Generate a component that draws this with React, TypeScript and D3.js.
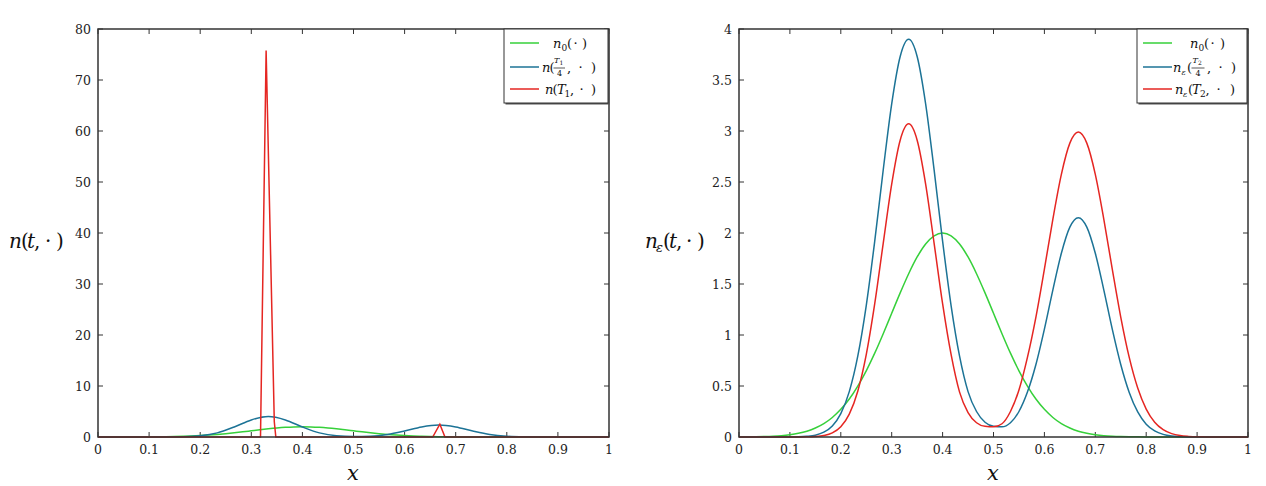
import * as d3 from "d3";

// sample grid used by the smooth curves (x = i / 60) and the coarse one (x = i / 30)
const fineX = d3.range(61).map((i) => i / 60);
const coarseX = d3.range(31).map((i) => i / 30);

// n0(.) – initial datum, same in both panels
const n0Values = [
  0.0007, 0.0013, 0.0024, 0.0044, 0.0077, 0.013, 0.022, 0.036, 0.057, 0.088,
  0.131, 0.191, 0.271, 0.372, 0.499, 0.649, 0.822, 1.013, 1.213, 1.413,
  1.601, 1.765, 1.892, 1.972, 2.0, 1.972, 1.892, 1.765, 1.601, 1.413,
  1.213, 1.013, 0.822, 0.649, 0.499, 0.372, 0.271, 0.191, 0.131, 0.088,
  0.057, 0.036, 0.022, 0.013, 0.0077, 0.0044, 0.0024, 0.0013, 0.0007, 0,
  0, 0, 0, 0, 0, 0, 0, 0, 0, 0, 0
];

// n(T1/4, .) – left panel, coarse grid
const nQuarterValues = [
  0, 0, 0, 0, 0.007, 0.048, 0.235, 0.81, 1.97, 3.35,
  4.0, 3.35, 1.97, 0.81, 0.24, 0.1, 0.15, 0.48, 1.16, 1.97,
  2.35, 1.97, 1.16, 0.48, 0.14, 0.028, 0.004, 0, 0, 0, 0
];

// n(T1, .) – left panel, spiky solution
const nFinalX = [0, 0.318, 0.329, 0.345, 0.348, 0.655, 0.669, 0.679, 1];
const nFinalY = [0, 0, 75.8, 3, 0, 0, 2.5, 0, 0];

// n_eps(T2/4, .)
const nEpsQuarterValues = [
  0, 0, 0, 0, 0, 0, 0.0007, 0.002, 0.007, 0.018,
  0.047, 0.108, 0.229, 0.445, 0.792, 1.289, 1.92, 2.618, 3.267, 3.731,
  3.9, 3.731, 3.267, 2.618, 1.92, 1.289, 0.792, 0.445, 0.25, 0.145,
  0.105, 0.1, 0.14, 0.25, 0.44, 0.711, 1.058, 1.443, 1.801, 2.057,
  2.15, 2.057, 1.801, 1.443, 1.058, 0.711, 0.437, 0.246, 0.126, 0.06,
  0.026, 0.01, 0.004, 0.001, 0, 0, 0, 0, 0, 0, 0
];

// n_eps(T2, .)
const nEpsFinalValues = [
  0, 0, 0, 0, 0, 0, 0, 0.0004, 0.0014, 0.005,
  0.015, 0.041, 0.101, 0.224, 0.449, 0.808, 1.307, 1.899, 2.48, 2.91,
  3.07, 2.91, 2.48, 1.899, 1.307, 0.809, 0.44, 0.24, 0.14, 0.105,
  0.1, 0.13, 0.25, 0.46, 0.78, 1.176, 1.646, 2.137, 2.575, 2.881,
  2.99, 2.881, 2.575, 2.137, 1.646, 1.176, 0.78, 0.48, 0.274, 0.145,
  0.072, 0.033, 0.014, 0.006, 0.002, 0.001, 0, 0, 0, 0, 0
];

const xTicks = [0, 0.1, 0.2, 0.3, 0.4, 0.5, 0.6, 0.7, 0.8, 0.9, 1];
const leftYTicks = [0, 10, 20, 30, 40, 50, 60, 70, 80];
const rightYTicks = [0, 0.5, 1, 1.5, 2, 2.5, 3, 3.5, 4];

const green = "#36d03a";
const blue = "#1c7396";
const red = "#e52622";
const frame = "#333";
const serif = "'DejaVu Serif', serif";

type Pt = { x: number; y: number };
type Piece = { t: string; x: number; dy?: number; size?: number; italic?: boolean };
type Series = { points: Pt[]; color: string; curve: d3.CurveFactory };

const zip = (xs: number[], ys: number[]): Pt[] => ys.map((y, i) => ({ x: xs[i], y }));

function MathText({ pieces, y, size }: { pieces: Piece[]; y: number; size: number }) {
  return (
    <g fill="#111">
      {pieces.map((p, i) => (
        <text
          key={i}
          x={p.x}
          y={y + (p.dy ?? 0)}
          fontSize={p.size ?? size}
          fontStyle={p.italic ? "italic" : "normal"}
        >
          {p.t}
        </text>
      ))}
    </g>
  );
}

type PanelProps = {
  left: number;
  right: number;
  top: number;
  bottom: number;
  yMax: number;
  yTicks: number[];
  series: Series[];
  legend: { box: [number, number, number, number]; lineX: [number, number]; rows: { y: number; color: string; pieces: Piece[]; bars?: [number, number, number][] }[] };
  yLabel: Piece[];
  xLabelX: number;
};

function Panel({ left, right, top, bottom, yMax, yTicks, series, legend, yLabel, xLabelX }: PanelProps) {
  const x = d3.scaleLinear().domain([0, 1]).range([left, right]);
  const y = d3.scaleLinear().domain([0, yMax]).range([bottom, top]);
  const tickLen = 5;
  const fmt = (v: number) => String(v);
  const [bx0, by0, bx1, by1] = legend.box;

  return (
    <g>
      {/* ticks */}
      {xTicks.map((t) => (
        <g key={`x${t}`} stroke={frame} strokeWidth={1}>
          <line x1={x(t)} x2={x(t)} y1={bottom} y2={bottom - tickLen} />
          <line x1={x(t)} x2={x(t)} y1={top} y2={top + tickLen} />
        </g>
      ))}
      {yTicks.map((t) => (
        <g key={`y${t}`} stroke={frame} strokeWidth={1}>
          <line x1={left} x2={left + tickLen} y1={y(t)} y2={y(t)} />
          <line x1={right} x2={right - tickLen} y1={y(t)} y2={y(t)} />
        </g>
      ))}
      {/* curves */}
      {series.map((s, i) => {
        const path = d3
          .line<Pt>()
          .x((d) => x(d.x))
          .y((d) => y(d.y))
          .curve(s.curve)(s.points);
        return <path key={i} d={path ?? ""} fill="none" stroke={s.color} strokeWidth={1.5} />;
      })}
      {/* frame */}
      <rect x={left} y={top} width={right - left} height={bottom - top} fill="none" stroke={frame} strokeWidth={1.5} />
      {/* tick labels */}
      {xTicks.map((t) => (
        <text key={`xl${t}`} x={x(t)} y={bottom + 17} textAnchor="middle" fontSize={12.5} fill="#222">
          {fmt(t)}
        </text>
      ))}
      {yTicks.map((t) => (
        <text key={`yl${t}`} x={left - 7} y={y(t) + 5} textAnchor="end" fontSize={12.5} fill="#222">
          {fmt(t)}
        </text>
      ))}
      {/* axis labels */}
      <text x={xLabelX} y={480} textAnchor="middle" fontSize={21} fontStyle="italic" fill="#111">
        x
      </text>
      <MathText pieces={yLabel} y={248} size={20} />
      {/* legend */}
      <rect x={bx0 + 1.5} y={by0 + 1.5} width={bx1 - bx0} height={by1 - by0} fill="#555" />
      <rect x={bx0} y={by0} width={bx1 - bx0} height={by1 - by0} fill="#fff" stroke={frame} strokeWidth={1} />
      {legend.rows.map((r, i) => (
        <g key={i}>
          <line x1={legend.lineX[0]} x2={legend.lineX[1]} y1={r.y} y2={r.y} stroke={r.color} strokeWidth={1.5} />
          <MathText pieces={r.pieces} y={r.y + 5} size={13} />
          {(r.bars ?? []).map(([a, b, yy], j) => (
            <line key={j} x1={a} x2={b} y1={r.y + yy} y2={r.y + yy} stroke="#111" strokeWidth={0.7} />
          ))}
        </g>
      ))}
    </g>
  );
}

export default function App() {
  const n0 = zip(fineX, n0Values);
  return (
    <svg
      width={1266}
      height={486}
      fontFamily={serif}
      style={{ position: "absolute", left: 0, top: 0, background: "#fff" }}
    >
      <Panel
        left={98}
        right={609}
        top={29}
        bottom={437}
        yMax={80}
        yTicks={leftYTicks}
        series={[
          { points: n0, color: green, curve: d3.curveMonotoneX },
          { points: zip(coarseX, nQuarterValues), color: blue, curve: d3.curveMonotoneX },
          { points: zip(nFinalX, nFinalY), color: red, curve: d3.curveLinear }
        ]}
        legend={{
          box: [504, 29, 608, 103],
          lineX: [510, 539],
          rows: [
            {
              y: 43,
              color: green,
              pieces: [
                { t: "n", x: 553, italic: true },
                { t: "0", x: 561.5, dy: 3, size: 9 },
                { t: "(", x: 567 },
                { t: "·", x: 573.5 },
                { t: ")", x: 582 }
              ]
            },
            {
              y: 67,
              color: blue,
              pieces: [
                { t: "n", x: 542, italic: true },
                { t: "(", x: 549.5 },
                { t: "T", x: 554, dy: -9, size: 8, italic: true },
                { t: "1", x: 559.5, dy: -7.5, size: 6 },
                { t: "4", x: 557, dy: 4, size: 8 },
                { t: ",", x: 567 },
                { t: "·", x: 578.5 },
                { t: ")", x: 591 }
              ],
              bars: [[553.5, 565, 1]]
            },
            {
              y: 89,
              color: red,
              pieces: [
                { t: "n", x: 545, italic: true },
                { t: "(", x: 552.5 },
                { t: "T", x: 557, italic: true },
                { t: "1", x: 564.5, dy: 3, size: 9 },
                { t: ",", x: 570 },
                { t: "·", x: 579.5 },
                { t: ")", x: 591 }
              ]
            }
          ]
        }}
        yLabel={[
          { t: "n", x: 9, italic: true },
          { t: "(", x: 21 },
          { t: "t", x: 27, italic: true },
          { t: ",", x: 34 },
          { t: "·", x: 45 },
          { t: ")", x: 56 }
        ]}
        xLabelX={353}
      />
      <Panel
        left={739}
        right={1248}
        top={29}
        bottom={437}
        yMax={4}
        yTicks={rightYTicks}
        series={[
          { points: n0, color: green, curve: d3.curveMonotoneX },
          { points: zip(fineX, nEpsQuarterValues), color: blue, curve: d3.curveMonotoneX },
          { points: zip(fineX, nEpsFinalValues), color: red, curve: d3.curveMonotoneX }
        ]}
        legend={{
          box: [1137, 29, 1247, 103],
          lineX: [1143, 1172],
          rows: [
            {
              y: 43,
              color: green,
              pieces: [
                { t: "n", x: 1190, italic: true },
                { t: "0", x: 1198.5, dy: 3, size: 9 },
                { t: "(", x: 1204 },
                { t: "·", x: 1210.5 },
                { t: ")", x: 1220 }
              ]
            },
            {
              y: 67,
              color: blue,
              pieces: [
                { t: "n", x: 1173, italic: true },
                { t: "ε", x: 1181.5, dy: 3, size: 8, italic: true },
                { t: "(", x: 1187 },
                { t: "T", x: 1192.5, dy: -9, size: 8, italic: true },
                { t: "2", x: 1198, dy: -7.5, size: 6 },
                { t: "4", x: 1195.5, dy: 4, size: 8 },
                { t: ",", x: 1207 },
                { t: "·", x: 1218.5 },
                { t: ")", x: 1231 }
              ],
              bars: [[1191.5, 1204.5, 1]]
            },
            {
              y: 89,
              color: red,
              pieces: [
                { t: "n", x: 1175, italic: true },
                { t: "ε", x: 1183, dy: 3, size: 8, italic: true },
                { t: "(", x: 1188 },
                { t: "T", x: 1192, italic: true },
                { t: "2", x: 1200, dy: 3, size: 9 },
                { t: ",", x: 1205.5 },
                { t: "·", x: 1216.5 },
                { t: ")", x: 1230 }
              ]
            }
          ]
        }}
        yLabel={[
          { t: "n", x: 645, italic: true },
          { t: "ε", x: 656, dy: 4, size: 13, italic: true },
          { t: "(", x: 663 },
          { t: "t", x: 669, italic: true },
          { t: ",", x: 676 },
          { t: "·", x: 686 },
          { t: ")", x: 697 }
        ]}
        xLabelX={993}
      />
    </svg>
  );
}
